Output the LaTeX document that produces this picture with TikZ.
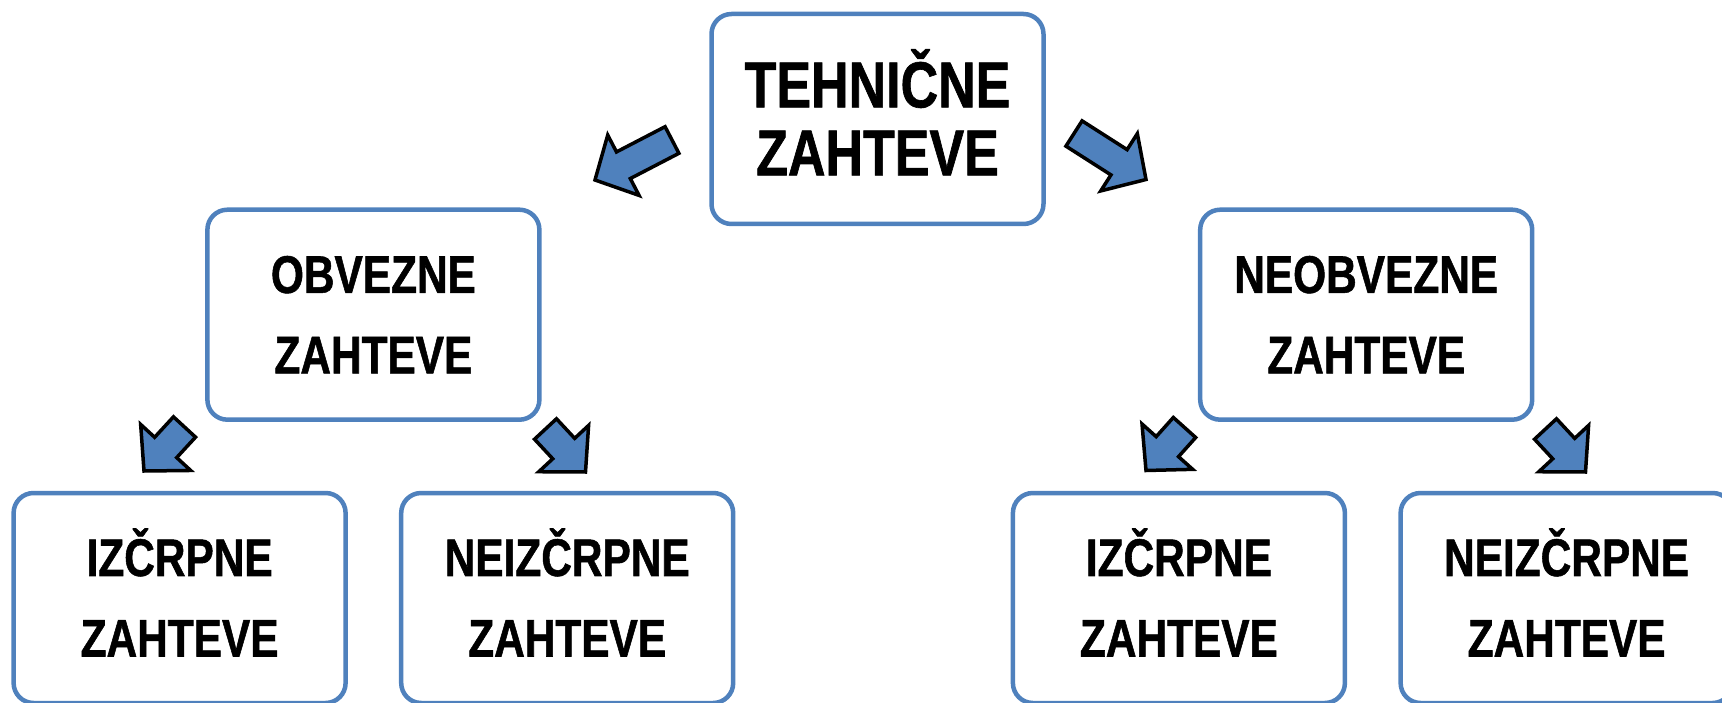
\documentclass[tikz,border=0pt]{standalone}
\usepackage{fontspec}
\newfontfamily\boxfont{Liberation Sans}[FakeStretch=0.8,FakeBold=1]
\usetikzlibrary{calc}
\definecolor{boxblue}{HTML}{4F81BD}
\tikzset{
  box/.style={draw=boxblue, line width=4.5pt, rounded corners=20pt, fill=white,
    minimum width=332pt, minimum height=210pt, inner sep=0pt, align=center,
    font=\boxfont\bfseries\fontsize{53}{80.5}\selectfont},
  blockarr/.style={draw=black, line width=3.5pt, fill=boxblue, line join=miter}
}
% block arrow from tail (#1) to tip (#2)
\newcommand{\blockarrow}[2]{%
  \coordinate (ba-b) at ($(#2)!32pt!(#1)$);
  \draw[blockarr] ($(#1)!15pt!90:(#2)$) -- ($(ba-b)!15pt!90:(#2)$)
    -- ($(ba-b)!34pt!90:(#2)$) -- (#2) -- ($(ba-b)!34pt!-90:(#2)$)
    -- ($(ba-b)!15pt!-90:(#2)$) -- ($(#1)!15pt!-90:(#2)$) -- cycle;}

\begin{document}
\begin{tikzpicture}[x=1pt,y=-1pt]
  \path[use as bounding box, clip] (0,0) rectangle (1722,703);

  \node[box, font=\boxfont\bfseries\fontsize{65}{68}\selectfont] (teh) at (877.5,119) {TEHNI\smash{Č}NE\\ZAHTEVE};
  \node[box] (obv) at (373.4,314.7) {OBVEZNE\\ZAHTEVE};
  \node[box] (neobv) at (1366.2,314.7) {NEOBVEZNE\\ZAHTEVE};

  \node[box] (izl) at (179.6,598) {IZ\smash{Č}RPNE\\ZAHTEVE};
  \node[box] (neizl) at (567.2,598) {NEIZ\smash{Č}RPNE\\ZAHTEVE};
  \node[box] (izr) at (1178.9,598) {IZ\smash{Č}RPNE\\ZAHTEVE};
  \node[box] (neizr) at (1566.6,598) {NEIZ\smash{Č}RPNE\\ZAHTEVE};

  % arrows
  \coordinate (a1s) at (672,140);     \coordinate (a1e) at (595,180);
  \coordinate (a2s) at (1074,133.5);  \coordinate (a2e) at (1146,179.5);
  \coordinate (a3s) at (184.5,427);   \coordinate (a3e) at (144,471);
  \coordinate (a4s) at (545.5,429);   \coordinate (a4e) at (585.5,472);
  \coordinate (a5s) at (1184.5,427.5);\coordinate (a5e) at (1146,470.5);
  \coordinate (a6s) at (1545.5,429);  \coordinate (a6e) at (1585.5,472);
  \blockarrow{a1s}{a1e}
  \blockarrow{a2s}{a2e}
  \blockarrow{a3s}{a3e}
  \blockarrow{a4s}{a4e}
  \blockarrow{a5s}{a5e}
  \blockarrow{a6s}{a6e}
\end{tikzpicture}
\end{document}
